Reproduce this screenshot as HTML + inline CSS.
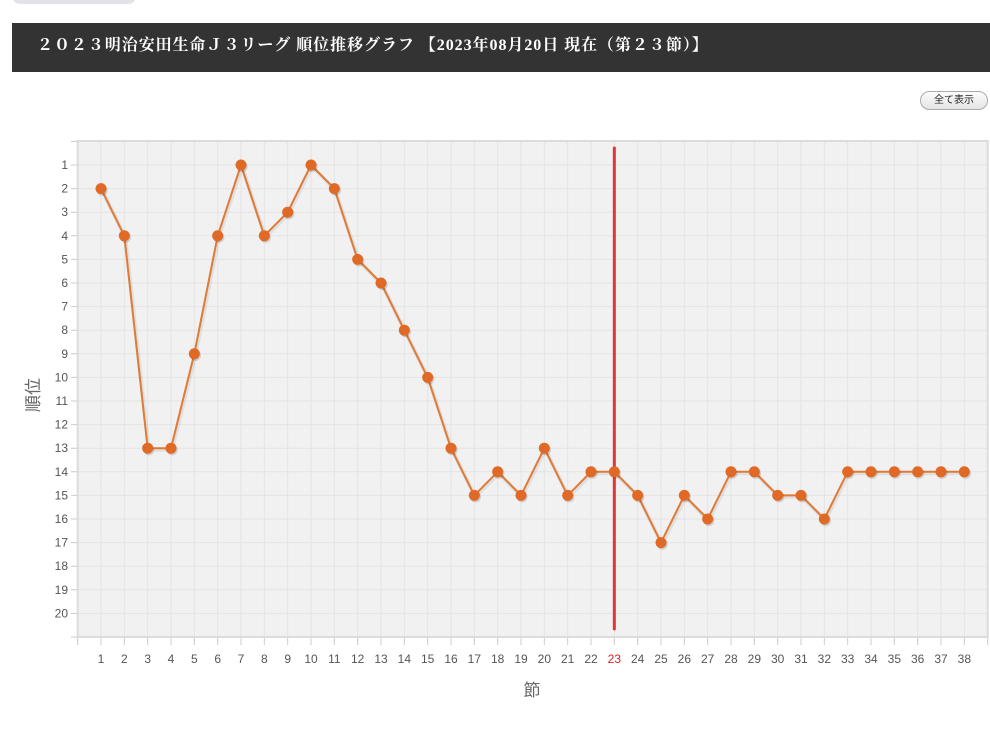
<!DOCTYPE html>
<html><head><meta charset="utf-8">
<style>
html,body{margin:0;padding:0;background:#fff;width:990px;height:734px;overflow:hidden;}
.tab{position:absolute;left:12px;top:-12px;width:124px;height:16px;background:#e3e3e7;border-radius:0 0 8px 8px;}
.hdr{position:absolute;left:12px;top:23px;width:978px;height:49px;background:#333;}
.hdr span{position:absolute;left:25px;top:13px;color:#fff;font-family:"Liberation Serif","Noto Serif CJK SC",serif;font-size:16px;font-weight:bold;letter-spacing:0.95px;white-space:nowrap;line-height:20px;}
.btn{position:absolute;left:920px;top:91px;width:66px;height:17px;border:1px solid #aaa;border-radius:10px;background:linear-gradient(#fcfcfc,#e4e4e4);font-family:"Liberation Sans","Noto Sans CJK JP",sans-serif;font-size:10px;line-height:17px;text-align:center;color:#222;}
svg{position:absolute;left:0;top:0;}
</style></head><body>
<div class="tab"></div>
<div class="hdr"><span>２０２３明治安田生命Ｊ３リーグ 順位推移グラフ 【2023年08月20日 現在（第２３節）】</span></div>
<div class="btn">全て表示</div>
<svg width="990" height="734" xmlns="http://www.w3.org/2000/svg">
<rect x="77.7" y="141" width="910" height="496" fill="#f1f1f1"/>
<path stroke="#e4e4e4" stroke-width="1" fill="none" d="M101 141V637M124.33 141V637M147.67 141V637M171 141V637M194.33 141V637M217.67 141V637M241 141V637M264.33 141V637M287.67 141V637M311 141V637M334.33 141V637M357.67 141V637M381 141V637M404.33 141V637M427.67 141V637M451 141V637M474.33 141V637M497.67 141V637M521 141V637M544.33 141V637M567.67 141V637M591 141V637M614.33 141V637M637.67 141V637M661 141V637M684.33 141V637M707.67 141V637M731 141V637M754.33 141V637M777.67 141V637M801 141V637M824.33 141V637M847.67 141V637M871 141V637M894.33 141V637M917.67 141V637M941 141V637M964.33 141V637"/>
<path stroke="#e4e4e4" stroke-width="1" fill="none" d="M78 165H987M78 188.6H987M78 212.2H987M78 235.8H987M78 259.4H987M78 283H987M78 306.6H987M78 330.2H987M78 353.8H987M78 377.4H987M78 401H987M78 424.6H987M78 448.2H987M78 471.8H987M78 495.4H987M78 519H987M78 542.6H987M78 566.2H987M78 589.8H987M78 613.4H987"/>
<rect x="77.7" y="141" width="910" height="496" fill="none" stroke="#dcdcdc" stroke-width="2"/>
<path stroke="#ccc" stroke-width="1" fill="none" d="M71 141.4H77M71 165H77M71 188.6H77M71 212.2H77M71 235.8H77M71 259.4H77M71 283H77M71 306.6H77M71 330.2H77M71 353.8H77M71 377.4H77M71 401H77M71 424.6H77M71 448.2H77M71 471.8H77M71 495.4H77M71 519H77M71 542.6H77M71 566.2H77M71 589.8H77M71 613.4H77M71 637H77"/>
<path stroke="#ccc" stroke-width="1" fill="none" d="M77.67 638V645M101 638V645M124.33 638V645M147.67 638V645M171 638V645M194.33 638V645M217.67 638V645M241 638V645M264.33 638V645M287.67 638V645M311 638V645M334.33 638V645M357.67 638V645M381 638V645M404.33 638V645M427.67 638V645M451 638V645M474.33 638V645M497.67 638V645M521 638V645M544.33 638V645M567.67 638V645M591 638V645M614.33 638V645M637.67 638V645M661 638V645M684.33 638V645M707.67 638V645M731 638V645M754.33 638V645M777.67 638V645M801 638V645M824.33 638V645M847.67 638V645M871 638V645M894.33 638V645M917.67 638V645M941 638V645M964.33 638V645M987.67 638V645"/>
<g font-family="Liberation Sans, DejaVu Sans, sans-serif" font-size="12" fill="#555" text-anchor="end">
<text x="68" y="169">1</text><text x="68" y="192.6">2</text><text x="68" y="216.2">3</text><text x="68" y="239.8">4</text><text x="68" y="263.4">5</text><text x="68" y="287">6</text><text x="68" y="310.6">7</text><text x="68" y="334.2">8</text><text x="68" y="357.8">9</text><text x="68" y="381.4">10</text><text x="68" y="405">11</text><text x="68" y="428.6">12</text><text x="68" y="452.2">13</text><text x="68" y="475.8">14</text><text x="68" y="499.4">15</text><text x="68" y="523">16</text><text x="68" y="546.6">17</text><text x="68" y="570.2">18</text><text x="68" y="593.8">19</text><text x="68" y="617.4">20</text>
</g>
<g font-family="Liberation Sans, DejaVu Sans, sans-serif" font-size="12" fill="#555" text-anchor="middle">
<text x="101" y="663">1</text><text x="124.33" y="663">2</text><text x="147.67" y="663">3</text><text x="171" y="663">4</text><text x="194.33" y="663">5</text><text x="217.67" y="663">6</text><text x="241" y="663">7</text><text x="264.33" y="663">8</text><text x="287.67" y="663">9</text><text x="311" y="663">10</text><text x="334.33" y="663">11</text><text x="357.67" y="663">12</text><text x="381" y="663">13</text><text x="404.33" y="663">14</text><text x="427.67" y="663">15</text><text x="451" y="663">16</text><text x="474.33" y="663">17</text><text x="497.67" y="663">18</text><text x="521" y="663">19</text><text x="544.33" y="663">20</text><text x="567.67" y="663">21</text><text x="591" y="663">22</text><text x="614.33" y="663" fill="#d22">23</text><text x="637.67" y="663">24</text><text x="661" y="663">25</text><text x="684.33" y="663">26</text><text x="707.67" y="663">27</text><text x="731" y="663">28</text><text x="754.33" y="663">29</text><text x="777.67" y="663">30</text><text x="801" y="663">31</text><text x="824.33" y="663">32</text><text x="847.67" y="663">33</text><text x="871" y="663">34</text><text x="894.33" y="663">35</text><text x="917.67" y="663">36</text><text x="941" y="663">37</text><text x="964.33" y="663">38</text>
</g>
<text x="0" y="0" transform="translate(39,395) rotate(-90)" text-anchor="middle" font-family="Liberation Sans, Noto Sans CJK JP, sans-serif" font-size="17" fill="#666">順位</text>
<text x="532" y="696" text-anchor="middle" font-family="Liberation Sans, Noto Sans CJK JP, sans-serif" font-size="17" fill="#666">節</text>
<line x1="614.33" y1="148" x2="614.33" y2="629" stroke="#e33535" stroke-width="3" stroke-linecap="round"/>
<g transform="translate(1,1.5)">
<polyline fill="none" stroke="rgba(0,0,0,0.07)" stroke-width="4" stroke-linejoin="round" points="101,188.6 124.33,235.8 147.67,448.2 171,448.2 194.33,353.8 217.67,235.8 241,165 264.33,235.8 287.67,212.2 311,165 334.33,188.6 357.67,259.4 381,283 404.33,330.2 427.67,377.4 451,448.2 474.33,495.4 497.67,471.8 521,495.4 544.33,448.2 567.67,495.4 591,471.8 614.33,471.8 637.67,495.4 661,542.6 684.33,495.4 707.67,519 731,471.8 754.33,471.8 777.67,495.4 801,495.4 824.33,519 847.67,471.8 871,471.8 894.33,471.8 917.67,471.8 941,471.8 964.33,471.8"/>
</g>
<polyline fill="none" stroke="#e07a35" stroke-width="2" stroke-linejoin="round" points="101,188.6 124.33,235.8 147.67,448.2 171,448.2 194.33,353.8 217.67,235.8 241,165 264.33,235.8 287.67,212.2 311,165 334.33,188.6 357.67,259.4 381,283 404.33,330.2 427.67,377.4 451,448.2 474.33,495.4 497.67,471.8 521,495.4 544.33,448.2 567.67,495.4 591,471.8 614.33,471.8 637.67,495.4 661,542.6 684.33,495.4 707.67,519 731,471.8 754.33,471.8 777.67,495.4 801,495.4 824.33,519 847.67,471.8 871,471.8 894.33,471.8 917.67,471.8 941,471.8 964.33,471.8"/>
<g fill="rgba(0,0,0,0.14)" transform="translate(1.2,1.6)">
<circle cx="101" cy="188.6" r="5.5"/><circle cx="124.33" cy="235.8" r="5.5"/><circle cx="147.67" cy="448.2" r="5.5"/><circle cx="171" cy="448.2" r="5.5"/><circle cx="194.33" cy="353.8" r="5.5"/><circle cx="217.67" cy="235.8" r="5.5"/><circle cx="241" cy="165" r="5.5"/><circle cx="264.33" cy="235.8" r="5.5"/><circle cx="287.67" cy="212.2" r="5.5"/><circle cx="311" cy="165" r="5.5"/><circle cx="334.33" cy="188.6" r="5.5"/><circle cx="357.67" cy="259.4" r="5.5"/><circle cx="381" cy="283" r="5.5"/><circle cx="404.33" cy="330.2" r="5.5"/><circle cx="427.67" cy="377.4" r="5.5"/><circle cx="451" cy="448.2" r="5.5"/><circle cx="474.33" cy="495.4" r="5.5"/><circle cx="497.67" cy="471.8" r="5.5"/><circle cx="521" cy="495.4" r="5.5"/><circle cx="544.33" cy="448.2" r="5.5"/><circle cx="567.67" cy="495.4" r="5.5"/><circle cx="591" cy="471.8" r="5.5"/><circle cx="614.33" cy="471.8" r="5.5"/><circle cx="637.67" cy="495.4" r="5.5"/><circle cx="661" cy="542.6" r="5.5"/><circle cx="684.33" cy="495.4" r="5.5"/><circle cx="707.67" cy="519" r="5.5"/><circle cx="731" cy="471.8" r="5.5"/><circle cx="754.33" cy="471.8" r="5.5"/><circle cx="777.67" cy="495.4" r="5.5"/><circle cx="801" cy="495.4" r="5.5"/><circle cx="824.33" cy="519" r="5.5"/><circle cx="847.67" cy="471.8" r="5.5"/><circle cx="871" cy="471.8" r="5.5"/><circle cx="894.33" cy="471.8" r="5.5"/><circle cx="917.67" cy="471.8" r="5.5"/><circle cx="941" cy="471.8" r="5.5"/><circle cx="964.33" cy="471.8" r="5.5"/>
</g>
<g fill="#e06a25">
<circle cx="101" cy="188.6" r="5.5"/><circle cx="124.33" cy="235.8" r="5.5"/><circle cx="147.67" cy="448.2" r="5.5"/><circle cx="171" cy="448.2" r="5.5"/><circle cx="194.33" cy="353.8" r="5.5"/><circle cx="217.67" cy="235.8" r="5.5"/><circle cx="241" cy="165" r="5.5"/><circle cx="264.33" cy="235.8" r="5.5"/><circle cx="287.67" cy="212.2" r="5.5"/><circle cx="311" cy="165" r="5.5"/><circle cx="334.33" cy="188.6" r="5.5"/><circle cx="357.67" cy="259.4" r="5.5"/><circle cx="381" cy="283" r="5.5"/><circle cx="404.33" cy="330.2" r="5.5"/><circle cx="427.67" cy="377.4" r="5.5"/><circle cx="451" cy="448.2" r="5.5"/><circle cx="474.33" cy="495.4" r="5.5"/><circle cx="497.67" cy="471.8" r="5.5"/><circle cx="521" cy="495.4" r="5.5"/><circle cx="544.33" cy="448.2" r="5.5"/><circle cx="567.67" cy="495.4" r="5.5"/><circle cx="591" cy="471.8" r="5.5"/><circle cx="614.33" cy="471.8" r="5.5"/><circle cx="637.67" cy="495.4" r="5.5"/><circle cx="661" cy="542.6" r="5.5"/><circle cx="684.33" cy="495.4" r="5.5"/><circle cx="707.67" cy="519" r="5.5"/><circle cx="731" cy="471.8" r="5.5"/><circle cx="754.33" cy="471.8" r="5.5"/><circle cx="777.67" cy="495.4" r="5.5"/><circle cx="801" cy="495.4" r="5.5"/><circle cx="824.33" cy="519" r="5.5"/><circle cx="847.67" cy="471.8" r="5.5"/><circle cx="871" cy="471.8" r="5.5"/><circle cx="894.33" cy="471.8" r="5.5"/><circle cx="917.67" cy="471.8" r="5.5"/><circle cx="941" cy="471.8" r="5.5"/><circle cx="964.33" cy="471.8" r="5.5"/>
</g>
</svg>
</body></html>
